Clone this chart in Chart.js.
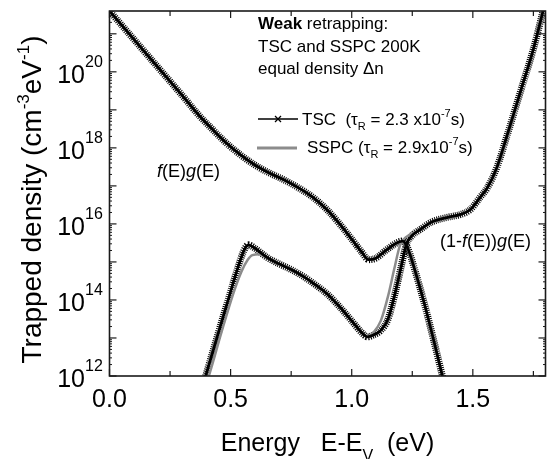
<!DOCTYPE html>
<html>
<head>
<meta charset="utf-8">
<script src="https://cdn.jsdelivr.net/npm/chart.js@4.4.1/dist/chart.umd.min.js"></script>
<style>
  html, body { margin: 0; padding: 0; background: #fff; }
</style>
</head>
<body>
<canvas id="trapChart" width="547" height="459"></canvas>
<script>
// energies in eV, trapped densities as log10 (cm^-3 eV^-1)
const energyFg = [0, 0.1, 0.2, 0.3, 0.37, 0.42, 0.48, 0.54, 0.6, 0.66, 0.72, 0.78, 0.84, 0.9, 0.95, 1.0, 1.04, 1.07, 1.1, 1.14, 1.18, 1.21, 1.23, 1.26, 1.3, 1.34, 1.38, 1.42];
const tscFg = [21.6, 20.86, 20.12, 19.38, 18.85, 18.52, 18.14, 17.82, 17.55, 17.34, 17.16, 16.95, 16.7, 16.36, 16.0, 15.6, 15.27, 15.06, 15.1, 15.3, 15.48, 15.55, 15.38, 14.8, 13.9, 12.9, 11.85, 10.8];
const sspcFg = [21.6, 20.86, 20.12, 19.38, 18.85, 18.52, 18.14, 17.82, 17.55, 17.34, 17.16, 16.95, 16.7, 16.36, 16.0, 15.6, 15.27, 15.06, 15.1, 15.3, 15.47, 15.5, 15.36, 14.8, 13.9, 12.9, 11.85, 10.8];

const energyTscHole = [0.36, 0.397, 0.45, 0.5, 0.53, 0.555, 0.573, 0.6, 0.65, 0.7, 0.75, 0.8, 0.85, 0.9, 0.95, 1.0, 1.04, 1.065, 1.09, 1.12, 1.15, 1.18, 1.205, 1.225, 1.25, 1.28, 1.33, 1.4, 1.45, 1.49, 1.53, 1.56, 1.6, 1.64, 1.7, 1.75, 1.79, 1.8];
const tscHole = [11.2, 12.0, 13.15, 14.22, 14.85, 15.3, 15.45, 15.36, 15.12, 14.95, 14.8, 14.62, 14.4, 14.15, 13.82, 13.45, 13.15, 13.03, 13.08, 13.2, 13.5, 14.2, 14.9, 15.45, 15.7, 15.84, 16.05, 16.18, 16.25, 16.38, 16.7, 16.95, 17.5, 18.3, 19.55, 20.6, 21.6, 21.85];

const energySspcHole = [0.37, 0.41, 0.46, 0.51, 0.545, 0.57, 0.59, 0.62, 0.65, 0.7, 0.75, 0.8, 0.85, 0.9, 0.95, 1.0, 1.04, 1.065, 1.09, 1.12, 1.15, 1.175, 1.2, 1.23, 1.28, 1.33, 1.4, 1.45, 1.49, 1.53, 1.56, 1.6, 1.64, 1.7, 1.75, 1.79, 1.8];
const sspcHole = [11.3, 12.0, 13.1, 14.15, 14.75, 15.05, 15.18, 15.2, 15.1, 14.95, 14.8, 14.62, 14.4, 14.15, 13.82, 13.45, 13.15, 13.03, 13.15, 13.45, 14.1, 14.8, 15.45, 15.68, 15.84, 16.05, 16.18, 16.25, 16.38, 16.7, 16.95, 17.5, 18.3, 19.55, 20.6, 21.6, 21.85];

const xTickLabels = [0, 0.5, 1.0, 1.5];
const yTickExps = [12, 14, 16, 18, 20];

const FONT = '"Liberation Sans", Arial, sans-serif';
const GREY = '#8c8c8c';

function pts(xs, logs) {
    return xs.map((e, i) => ({ x: e, y: Math.pow(10, logs[i]) }));
}

// thick dashed line under a solid one looks like the dense x markers
function tscSets(data) {
    return [
        { data: data, borderColor: '#000', borderWidth: 7, borderDash: [1, 1.1], order: 3 },
        { data: data, borderColor: '#000', borderWidth: 2.8, order: 1 }
    ];
}

// text pieces: {t, size, dy, italic, bold}
function measureRun(ctx, parts) {
    let w = 0;
    parts.forEach(p => {
        ctx.font = (p.italic ? 'italic ' : '') + (p.bold ? 'bold ' : '') + p.size + 'px ' + FONT;
        w += ctx.measureText(p.t).width;
    });
    return w;
}

function drawRun(ctx, parts, x, y, align) {
    let cx = x;
    if (align === 'center') cx -= measureRun(ctx, parts) / 2;
    if (align === 'right') cx -= measureRun(ctx, parts);
    ctx.textAlign = 'left';
    parts.forEach(p => {
        ctx.font = (p.italic ? 'italic ' : '') + (p.bold ? 'bold ' : '') + p.size + 'px ' + FONT;
        ctx.fillText(p.t, cx, y + (p.dy || 0));
        cx += ctx.measureText(p.t).width;
    });
    return cx;
}

const decor = {
    id: 'decor',
    afterDatasetsDraw(chart) {
        const { ctx, chartArea: a, scales: { x, y } } = chart;
        ctx.save();
        ctx.strokeStyle = '#1a1a1a';
        ctx.fillStyle = '#000';
        ctx.textBaseline = 'alphabetic';

        function seg(x1, y1, x2, y2) {
            ctx.beginPath();
            ctx.moveTo(x1, y1);
            ctx.lineTo(x2, y2);
            ctx.stroke();
        }

        // frame
        ctx.lineWidth = 1.6;
        ctx.strokeRect(a.left, a.top, a.right - a.left, a.bottom - a.top);

        // x ticks, inward, top and bottom
        ctx.lineWidth = 1.2;
        for (let i = 0; i <= 7; i++) {
            const v = i * 0.25;
            const px = x.getPixelForValue(v);
            const len = i % 2 === 0 ? 7 : 5;
            seg(px, a.bottom, px, a.bottom - len);
            seg(px, a.top, px, a.top + len);
        }

        // y ticks, every decade plus small minor ticks
        for (let e = 12; e <= 21; e++) {
            const py = y.getPixelForValue(Math.pow(10, e));
            ctx.lineWidth = 1.2;
            seg(a.left, py, a.left + 7, py);
            seg(a.right, py, a.right - 7, py);
            ctx.lineWidth = 1;
            for (let m = 2; m <= 9; m++) {
                const pm = y.getPixelForValue(m * Math.pow(10, e));
                if (pm < a.top) break;
                seg(a.left, pm, a.left + 2.5, pm);
                seg(a.right, pm, a.right - 2.5, pm);
            }
        }

        // x tick labels
        xTickLabels.forEach(v => {
            drawRun(ctx, [{ t: v.toFixed(1), size: 25 }], x.getPixelForValue(v), a.bottom + 31, 'center');
        });

        // y tick labels 10^n
        yTickExps.forEach(n => {
            const py = y.getPixelForValue(Math.pow(10, n));
            ctx.font = '25px ' + FONT;
            ctx.textAlign = 'right';
            ctx.fillText('10', 85, py + 11);
            ctx.font = '16px ' + FONT;
            ctx.textAlign = 'left';
            ctx.fillText(String(n), 85, py - 5);
        });

        // axis titles
        drawRun(ctx, [
            { t: 'Energy   E-E', size: 25 },
            { t: 'V', size: 16, dy: 10 },
            { t: '  (eV)', size: 25 }
        ], (a.left + a.right) / 2, 451, 'center');

        ctx.save();
        ctx.translate(41, (a.top + a.bottom) / 2 + 6);
        ctx.rotate(-Math.PI / 2);
        drawRun(ctx, [
            { t: 'Trapped density (cm', size: 28 },
            { t: '-3', size: 17, dy: -12 },
            { t: 'eV', size: 28 },
            { t: '-1', size: 17, dy: -12 },
            { t: ')', size: 28 }
        ], 0, 0, 'center');
        ctx.restore();

        // notes in the plot
        drawRun(ctx, [{ t: 'Weak', size: 17, bold: true }, { t: ' retrapping:', size: 17 }], 258, 29);
        drawRun(ctx, [{ t: 'TSC and SSPC 200K', size: 17 }], 258, 52);
        drawRun(ctx, [{ t: 'equal density \u0394n', size: 17 }], 258, 74);

        drawRun(ctx, [
            { t: 'f', size: 18, italic: true }, { t: '(E)', size: 18 },
            { t: 'g', size: 18, italic: true }, { t: '(E)', size: 18 }
        ], 157, 177);
        drawRun(ctx, [
            { t: '(1-', size: 18 }, { t: 'f', size: 18, italic: true }, { t: '(E))', size: 18 },
            { t: 'g', size: 18, italic: true }, { t: '(E)', size: 18 }
        ], 440, 247);

        // legend
        ctx.strokeStyle = '#000';
        ctx.lineWidth = 1.5;
        seg(258, 119, 298, 119);
        ctx.lineWidth = 1.2;
        seg(275, 116, 281, 122);
        seg(275, 122, 281, 116);
        drawRun(ctx, [
            { t: 'TSC  (\u03c4', size: 17 }, { t: 'R', size: 11, dy: 5 },
            { t: ' = 2.3 x10', size: 17 }, { t: '-7', size: 11, dy: -8 }, { t: 's)', size: 17 }
        ], 302, 125);

        ctx.strokeStyle = GREY;
        ctx.lineWidth = 3;
        seg(257, 148, 297, 148);
        drawRun(ctx, [
            { t: 'SSPC (\u03c4', size: 17 }, { t: 'R', size: 11, dy: 5 },
            { t: ' = 2.9x10', size: 17 }, { t: '-7', size: 11, dy: -8 }, { t: 's)', size: 17 }
        ], 307, 153);

        ctx.restore();
    }
};

const ctx = document.getElementById('trapChart').getContext('2d');

const trapChart = new Chart(ctx, {
    type: 'line',
    data: {
        datasets: [
            ...tscSets(pts(energyFg, tscFg)),
            ...tscSets(pts(energyTscHole, tscHole)),
            { data: pts(energyFg, sspcFg), borderColor: GREY, borderWidth: 2.5, order: 2 },
            { data: pts(energySspcHole, sspcHole), borderColor: GREY, borderWidth: 2.5, order: 2 }
        ]
    },
    options: {
        responsive: false,
        animation: false,
        clip: 0,
        cubicInterpolationMode: 'monotone',
        elements: { point: { radius: 0 } },
        layout: { padding: { left: 109.5, right: 1.5, top: 11, bottom: 83 } },
        plugins: { legend: { display: false }, tooltip: { enabled: false } },
        scales: {
            x: { type: 'linear', min: 0, max: 1.8, display: false },
            y: { type: 'logarithmic', min: 1e12, max: Math.pow(10, 21.6), display: false }
        }
    },
    plugins: [decor]
});
</script>
</body>
</html>
